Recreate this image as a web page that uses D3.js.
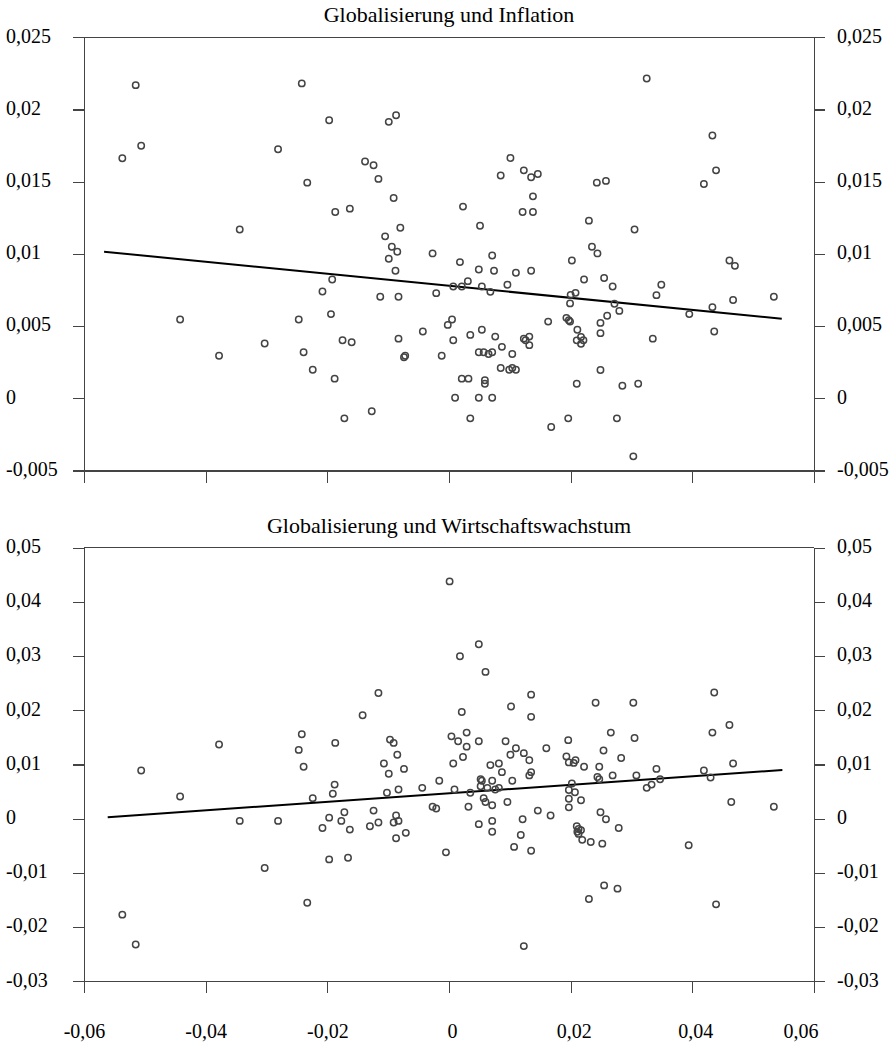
<!DOCTYPE html>
<html>
<head>
<meta charset="utf-8">
<title>Globalisierung</title>
<script src="https://cdn.jsdelivr.net/npm/d3@7"></script>
<style>
  body { margin: 0; background: #fff; }
  svg { display: block; font-family: "Liberation Serif", "Times New Roman", serif; }
  .axis path, .axis line, .frame { stroke: #444; stroke-width: 1.2; fill: none; shape-rendering: crispEdges; }
  .axis text { font-size: 20px; fill: #000; font-family: "Liberation Serif", serif; }
  circle.pt { fill: none; stroke: #444; stroke-width: 1.5; }
  .trend { stroke: #000; stroke-width: 2; fill: none; }
  .title { font-size: 22px; text-anchor: middle; fill: #000; }
</style>
</head>
<body>
<script>
// x axis shared by both panels
var xTicks = [-0.06, -0.04, -0.02, 0, 0.02, 0.04, 0.06];

// Panel 1: Globalisierung und Inflation
var inflTicks = [0.025, 0.02, 0.015, 0.01, 0.005, 0, -0.005];
var inflX = [
  -0.0515,-0.0242,-0.0197,-0.0506,-0.0281,-0.0537,-0.0233,-0.0187,-0.0344,-0.0192,
  -0.0208,-0.0442,-0.0247,-0.0194,-0.0303,-0.0378,-0.0239,-0.0224,-0.0188,-0.0099,
  -0.0087,-0.0138,-0.0124,-0.0116,-0.0091,-0.0163,-0.0080,-0.0105,-0.0094,-0.0085,
  -0.0099,-0.0088,-0.0113,-0.0083,-0.0175,-0.0160,-0.0083,-0.0074,-0.0072,-0.0172,
  -0.0127,-0.0027,-0.0021,-0.0043,-0.0002,0.0005,0.0007,-0.0012,0.0010,0.0021,
  0.0032,0.0035,0.0023,0.0051,0.0018,0.0031,0.0007,0.0021,0.0049,0.0054,
  0.0071,0.0074,0.0068,0.0096,0.0110,0.0135,0.0101,0.0085,0.0123,0.0135,
  0.0146,0.0138,0.0121,0.0138,0.0035,0.0054,0.0076,0.0087,0.0104,0.0049,
  0.0057,0.0065,0.0071,0.0059,0.0059,0.0049,0.0071,0.0085,0.0099,0.0104,
  0.0110,0.0123,0.0126,0.0132,0.0132,0.0163,0.0168,0.0196,0.0202,0.0200,
  0.0208,0.0199,0.0193,0.0197,0.0199,0.0211,0.0210,0.0217,0.0221,0.0217,
  0.0210,0.0325,0.0243,0.0258,0.0230,0.0305,0.0235,0.0244,0.0222,0.0255,
  0.0269,0.0272,0.0280,0.0260,0.0249,0.0249,0.0249,0.0285,0.0311,0.0276,
  0.0303,0.0335,0.0341,0.0349,0.0395,0.0433,0.0439,0.0419,0.0433,0.0436,
  0.0461,0.0470,0.0467,0.0534
];
var inflY = [
  0.02168,0.02180,0.01925,0.01748,0.01724,0.01662,0.01493,0.01290,0.01169,0.00822,
  0.00739,0.00545,0.00545,0.00583,0.00379,0.00295,0.00319,0.00198,0.00136,0.01914,
  0.01960,0.01639,0.01613,0.01519,0.01387,0.01313,0.01181,0.01121,0.01049,0.01015,
  0.00966,0.00883,0.00703,0.00703,0.00402,0.00388,0.00413,0.00284,0.00295,-0.00139,
  -0.00090,0.01003,0.00728,0.00462,0.00508,0.00545,0.00402,0.00295,0.00004,0.00136,
  0.00136,-0.00139,0.01327,0.01195,0.00943,0.00811,0.00774,0.00774,0.00892,0.00774,
  0.00989,0.00883,0.00737,0.00786,0.00869,0.00883,0.01664,0.01542,0.01578,0.01530,
  0.01553,0.01398,0.01290,0.01290,0.00439,0.00474,0.00427,0.00356,0.00307,0.00319,
  0.00319,0.00307,0.00319,0.00125,0.00101,0.00004,0.00004,0.00210,0.00198,0.00210,
  0.00198,0.00413,0.00402,0.00427,0.00368,0.00531,-0.00199,-0.00139,0.00954,0.00716,
  0.00730,0.00657,0.00557,0.00540,0.00531,0.00474,0.00401,0.00425,0.00402,0.00377,
  0.00101,0.02214,0.01493,0.01505,0.01230,0.01169,0.01049,0.01003,0.00822,0.00833,
  0.00774,0.00654,0.00605,0.00571,0.00522,0.00451,0.00196,0.00087,0.00101,-0.00139,
  -0.00402,0.00413,0.00714,0.00786,0.00583,0.01819,0.01578,0.01484,0.00631,0.00462,
  0.00954,0.00917,0.00680,0.00703
];
var inflTrend = [[-0.0567, 0.01015], [0.0547, 0.00551]];

// Panel 2: Globalisierung und Wirtschaftswachstum
var growthTicks = [0.05, 0.04, 0.03, 0.02, 0.01, 0, -0.01, -0.02, -0.03];
var growthX = [
  -0.0242,-0.0378,-0.0247,-0.0187,-0.0506,-0.0239,-0.0442,-0.0224,-0.0188,-0.0191,
  -0.0344,-0.0281,-0.0197,-0.0208,-0.0197,-0.0303,-0.0233,-0.0537,-0.0515,0.0001,
  0.0049,0.0018,0.0060,-0.0116,0.0135,-0.0142,0.0102,0.0135,0.0021,0.0004,
  0.0015,0.0029,0.0029,0.0023,0.0049,0.0007,-0.0097,-0.0091,-0.0085,-0.0107,
  -0.0074,-0.0099,-0.0102,-0.0083,-0.0044,-0.0016,0.0009,0.0035,0.0093,0.0110,
  0.0101,0.0123,0.0132,0.0160,0.0196,0.0193,0.0197,0.0205,0.0208,0.0068,
  0.0082,0.0087,0.0135,0.0132,0.0052,0.0054,0.0071,0.0104,0.0052,0.0063,
  0.0076,0.0082,0.0057,0.0060,0.0071,0.0096,0.0032,-0.0027,-0.0021,0.0202,
  0.0197,0.0207,0.0197,0.0217,0.0197,0.0146,0.0167,0.0121,0.0049,0.0071,
  0.0071,0.0118,0.0107,0.0135,-0.0005,-0.0124,-0.0172,-0.0177,-0.0163,-0.0130,
  -0.0116,-0.0087,-0.0091,-0.0083,-0.0087,-0.0071,-0.0166,0.0123,0.0254,0.0222,
  0.0247,0.0244,0.0247,0.0269,0.0249,0.0258,0.0279,0.0210,0.0213,0.0217,
  0.0211,0.0213,0.0219,0.0233,0.0252,0.0436,0.0241,0.0303,0.0461,0.0266,
  0.0433,0.0305,0.0283,0.0341,0.0467,0.0419,0.0430,0.0308,0.0325,0.0333,
  0.0347,0.0464,0.0534,0.0394,0.0255,0.0277,0.0230,0.0439
];
var growthY = [
  0.0156,0.0137,0.0127,0.0140,0.0089,0.0096,0.0041,0.0038,0.0063,0.0046,
  -0.0004,-0.0004,0.0002,-0.0017,-0.0075,-0.0091,-0.0155,-0.0177,-0.0232,0.0438,
  0.0322,0.0300,0.0271,0.0232,0.0229,0.0191,0.0207,0.0188,0.0197,0.0152,
  0.0143,0.0159,0.0133,0.0114,0.0143,0.0102,0.0146,0.0140,0.0118,0.0102,
  0.0092,0.0083,0.0048,0.0054,0.0057,0.0070,0.0054,0.0048,0.0143,0.0130,
  0.0118,0.0121,0.0108,0.0130,0.0145,0.0115,0.0104,0.0103,0.0108,0.0099,
  0.0102,0.0086,0.0086,0.0080,0.0073,0.0070,0.0070,0.0070,0.0060,0.0057,
  0.0054,0.0057,0.0038,0.0031,0.0025,0.0031,0.0022,0.0022,0.0019,0.0065,
  0.0053,0.0049,0.0037,0.0034,0.0021,0.0015,0.0006,-0.0001,-0.0010,-0.0004,
  -0.0024,-0.0030,-0.0052,-0.0059,-0.0062,0.0015,0.0012,-0.0004,-0.0020,-0.0014,
  -0.0007,0.0006,-0.0007,-0.0004,-0.0036,-0.0026,-0.0072,-0.0235,0.0126,0.0096,
  0.0096,0.0077,0.0073,0.0080,0.0012,-0.0001,-0.0017,-0.0014,-0.0019,-0.0021,
  -0.0024,-0.0028,-0.0039,-0.0043,-0.0046,0.0233,0.0214,0.0214,0.0173,0.0159,
  0.0159,0.0149,0.0112,0.0092,0.0102,0.0089,0.0076,0.0080,0.0057,0.0063,
  0.0073,0.0031,0.0022,-0.0049,-0.0123,-0.0129,-0.0148,-0.0158
];
var growthTrend = [[-0.0561, 0.00028], [0.0548, 0.00899]];

var width = 894, height = 1046;
var svg = d3.select("body").append("svg").attr("width", width).attr("height", height);

var x = d3.scaleLinear().domain([-0.06, 0.06]).range([84, 814]);

var de = d3.formatLocale({decimal: ",", thousands: ".", grouping: [3], currency: ["", ""], minus: "-"});
var fmt = de.format("~g");
var serif = "Liberation Serif, Times New Roman, serif";

function drawPanel(p) {
    var y = d3.scaleLinear().domain([p.yMin, p.yMax]).range([p.bottom, p.top]);
    var g = svg.append("g");

    g.append("text").attr("class", "title")
        .attr("x", (x.range()[0] + x.range()[1]) / 2)
        .attr("y", p.top - 15)
        .text(p.title);

    // top frame line
    g.append("line").attr("class", "frame")
        .attr("x1", x(-0.06)).attr("x2", x(0.06))
        .attr("y1", y(p.yMax)).attr("y2", y(p.yMax));

    var left = g.append("g").attr("class", "axis")
        .attr("transform", "translate(" + x(-0.06) + ",0)")
        .call(d3.axisLeft(y).tickValues(p.ticks).tickSize(11).tickSizeOuter(0).tickFormat(fmt))
        .attr("font-family", serif);
    left.selectAll("text").attr("x", 6 - x(-0.06)).attr("text-anchor", "start").attr("dy", "0.24em");

    var right = g.append("g").attr("class", "axis")
        .attr("transform", "translate(" + x(0.06) + ",0)")
        .call(d3.axisRight(y).tickValues(p.ticks).tickSize(11).tickPadding(12).tickSizeOuter(0).tickFormat(fmt))
        .attr("font-family", serif);
    right.selectAll("text").attr("dy", "0.24em");

    var bottom = g.append("g").attr("class", "axis")
        .attr("transform", "translate(0," + y(p.yMin) + ")")
        .call(d3.axisBottom(x).tickValues(xTicks).tickSize(12).tickPadding(31).tickSizeOuter(0)
            .tickFormat(p.xLabels ? fmt : function () { return ""; }))
        .attr("font-family", serif);
    bottom.selectAll(".tick text")
        .attr("dx", function (d) { return d >= 0 ? 3 : 0; })
        .filter(function (d) { return d === 0.06; })
        .attr("text-anchor", "end").attr("dx", 4);

    var line = d3.line().x(function (d) { return x(d[0]); }).y(function (d) { return y(d[1]); });
    g.append("path").attr("class", "trend").attr("d", line(p.trend));

    g.selectAll("circle.pt")
        .data(d3.range(p.xs.length))
        .enter().append("circle")
        .attr("class", "pt")
        .attr("cx", function (i) { return x(p.xs[i]); })
        .attr("cy", function (i) { return y(p.ys[i]); })
        .attr("r", 3.2);
}

drawPanel({
    title: "Globalisierung und Inflation",
    yMin: -0.005, yMax: 0.025, top: 37.2, bottom: 470.5,
    ticks: inflTicks, xs: inflX, ys: inflY, trend: inflTrend, xLabels: false
});

drawPanel({
    title: "Globalisierung und Wirtschaftswachstum",
    yMin: -0.03, yMax: 0.05, top: 547.8, bottom: 981.3,
    ticks: growthTicks, xs: growthX, ys: growthY, trend: growthTrend, xLabels: true
});
</script>
</body>
</html>
